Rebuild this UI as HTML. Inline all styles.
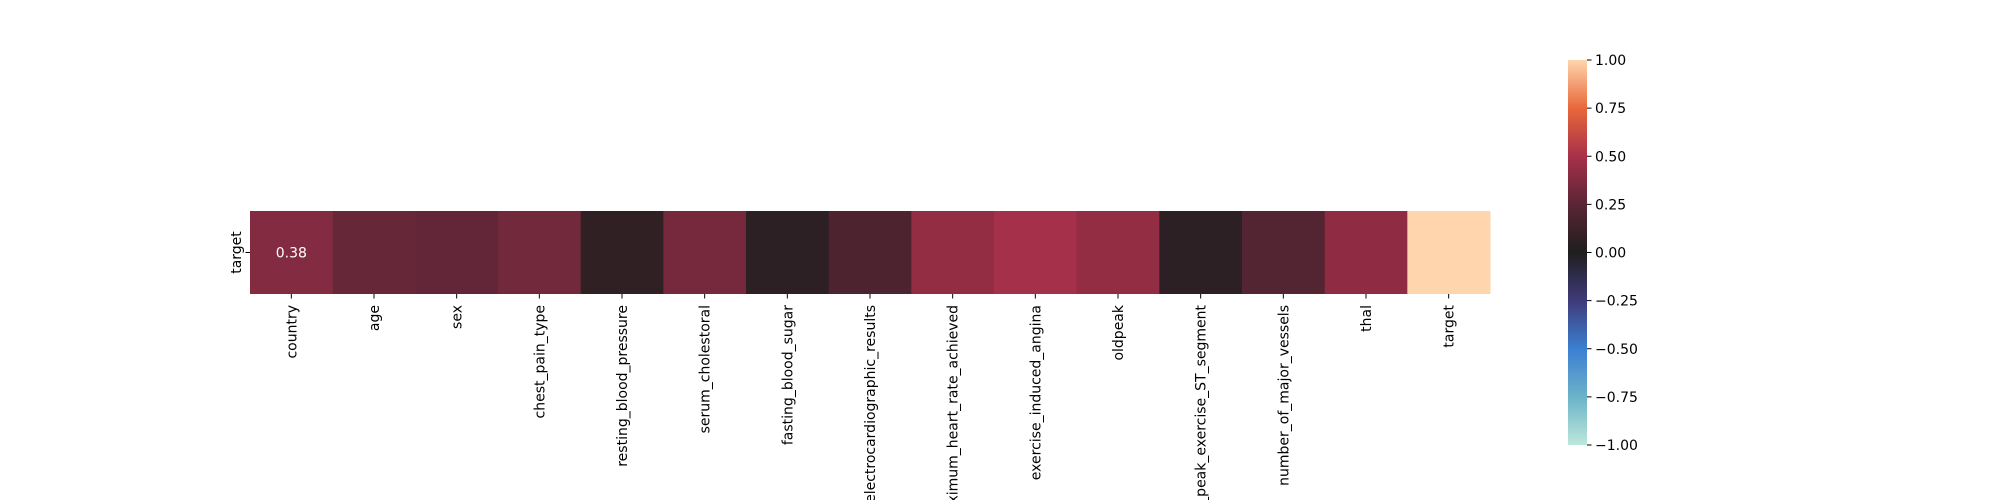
<!DOCTYPE html>
<html><head><meta charset="utf-8"><style>
html,body{margin:0;background:#fff;width:2000px;height:500px;overflow:hidden;}
svg{display:block;font-family:"DejaVu Sans","Liberation Sans",sans-serif;overflow:hidden;}
</style></head><body>
<svg id="chart" width="2000" height="500" viewBox="0 0 2000 500">
<defs>
<linearGradient id="cbgrad" x1="0" y1="1" x2="0" y2="0">
<stop offset="0" stop-color="#bde7db"/>
<stop offset="0.125" stop-color="#6bb3c9"/>
<stop offset="0.25" stop-color="#3b7fd2"/>
<stop offset="0.375" stop-color="#3f3b7a"/>
<stop offset="0.5" stop-color="#1f1e1e"/>
<stop offset="0.625" stop-color="#5a2535"/>
<stop offset="0.75" stop-color="#a8304a"/>
<stop offset="0.875" stop-color="#e8683a"/>
<stop offset="1" stop-color="#ffd5ad"/>
</linearGradient>
</defs>
<g id="cells"></g>
<g id="xticks"></g>
<g id="cbar"></g>
</svg>
<script>
const categories = ["country","age","sex","chest_pain_type","resting_blood_pressure","serum_cholestoral","fasting_blood_sugar","electrocardiographic_results","maximum_heart_rate_achieved","exercise_induced_angina","oldpeak","the_slope_of_the_peak_exercise_ST_segment","number_of_major_vessels","thal","target"];
const rowLabels = ["target"];
const values = [0.38,0.29,0.28,0.33,0.07,0.34,0.06,0.19,0.43,0.49,0.43,0.06,0.22,0.42,1.0];
const annotated = [0];
const cbTicks = [1.0,0.75,0.5,0.25,0.0,-0.25,-0.5,-0.75,-1.0];
const cbTickLabels = ["1.00","0.75","0.50","0.25","0.00","\u22120.25","\u22120.50","\u22120.75","\u22121.00"];

const NS="http://www.w3.org/2000/svg";
const X0=250,X1=1490,Y0=211,Y1=294;
const FS=14;
const cw=(X1-X0)/categories.length;
const xPos=i=>X0+i*cw;
const CB_TOP=60,CB_BOT=445,CB_X=1568,CB_W=19;
const cbY=v=>CB_BOT-(v+1)/2*(CB_BOT-CB_TOP);
const stops=[[-1,[189,231,219]],[-0.75,[107,179,201]],[-0.5,[59,127,210]],[-0.25,[63,59,122]],[0,[31,30,30]],[0.25,[90,37,53]],[0.5,[168,48,74]],[0.75,[232,104,58]],[1,[255,213,173]]];
function cmap(v){
  for(let i=0;i<stops.length-1;i++){
    const [a,ca]=stops[i],[b,cb]=stops[i+1];
    if(v<=b){const t=(v-a)/(b-a);return "rgb("+ca.map((c,k)=>Math.round(c+t*(cb[k]-c))).join(",")+")";}
  }
  return "rgb(255,213,173)";
}
function mk(tag,attrs,parent){const e=document.createElementNS(NS,tag);for(const k in attrs)e.setAttribute(k,attrs[k]);parent.appendChild(e);return e;}

const cells=document.getElementById("cells");
values.forEach((v,i)=>{
  const r=mk("rect",{x:xPos(i),y:Y0,width:cw+0.5,height:Y1-Y0,fill:cmap(v)},cells);
  
  
});
annotated.forEach(i=>{
  const t=mk("text",{x:xPos(i)+cw/2,y:(Y0+Y1)/2+5,fill:"#fff","font-size":FS,"text-anchor":"middle"},cells);
  t.textContent=values[i].toFixed(2);
  
  
});
const yt=document.getElementById("xticks");
const ytl=mk("line",{x1:X0-4.5,x2:X0,y1:(Y0+Y1)/2,y2:(Y0+Y1)/2,stroke:"#000","stroke-width":1},yt);


const ylab=mk("text",{transform:"translate("+(X0-9)+","+((Y0+Y1)/2)+") rotate(-90)","font-size":FS,"text-anchor":"middle"},yt);
ylab.textContent=rowLabels[0];


categories.forEach((c,i)=>{
  const cx=xPos(i)+cw/2;
  const l=mk("line",{x1:cx,x2:cx,y1:Y1,y2:Y1+4.5,stroke:"#000","stroke-width":1},yt);
  
  
  const t=mk("text",{transform:"translate("+(cx+5)+","+(Y1+11)+") rotate(-90)","font-size":FS,"text-anchor":"end"},yt);
  t.textContent=c;
  
  
});
const cbar=document.getElementById("cbar");
const cbr=mk("rect",{x:CB_X,y:CB_TOP,width:CB_W,height:CB_BOT-CB_TOP,fill:"url(#cbgrad)"},cbar);


cbTicks.forEach((v,i)=>{
  const y=cbY(v);
  const l=mk("line",{x1:CB_X+CB_W,x2:CB_X+CB_W+4.5,y1:y,y2:y,stroke:"#000","stroke-width":1},cbar);
  
  
  const t=mk("text",{x:CB_X+CB_W+8,y:y+5,"font-size":FS},cbar);
  t.textContent=cbTickLabels[i];
  
  
});
</script>
</body></html>
